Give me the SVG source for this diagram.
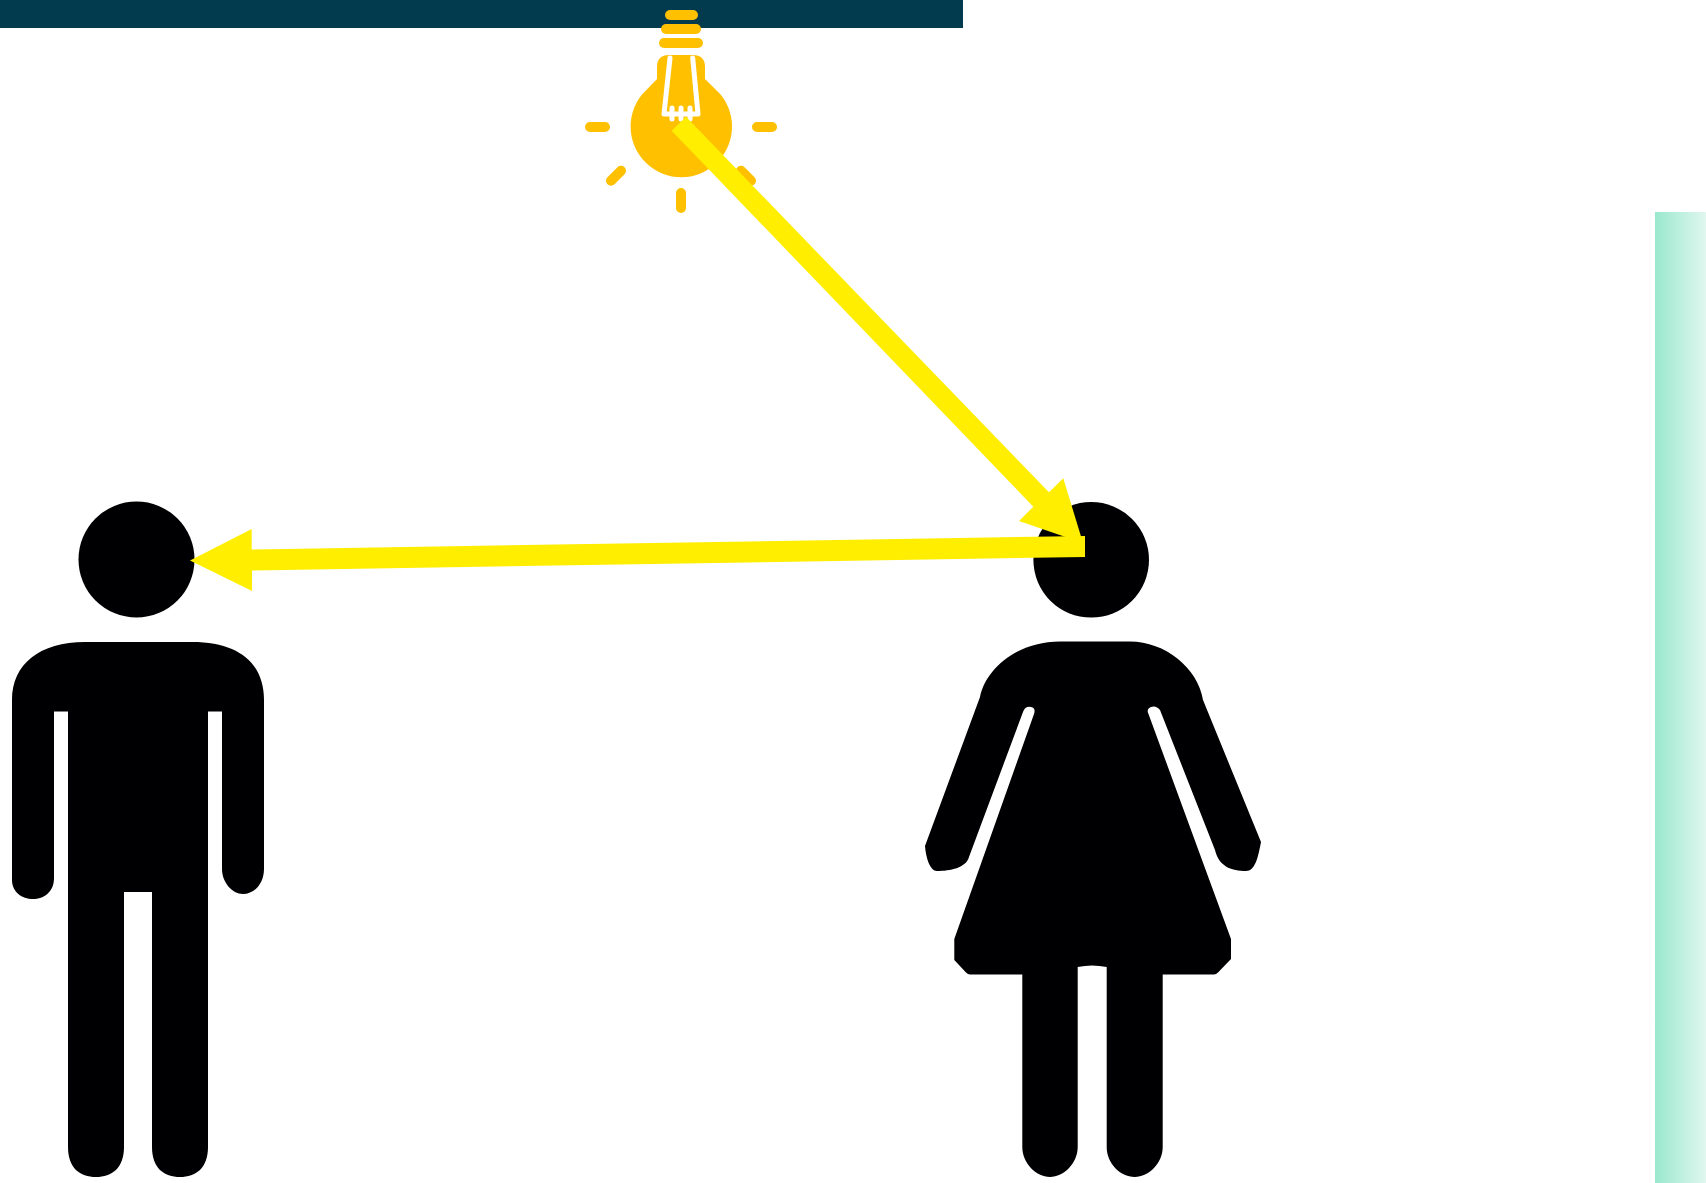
<svg xmlns="http://www.w3.org/2000/svg" width="1706" height="1183" viewBox="0 0 1706 1183">
<defs>
<linearGradient id="band" x1="0" x2="1" y1="0" y2="0"><stop offset="0" stop-color="#9ae8ce"/><stop offset="1" stop-color="#e0f7ef"/></linearGradient>
</defs>
<style>
.fig{fill:#000002}
.bulb{fill:#ffc000}
.ray{stroke:#ffc000;stroke-width:10;stroke-linecap:round;fill:none}
.fil{stroke:#fff;stroke-width:5;stroke-linecap:round;stroke-linejoin:round;fill:none}
.arrow{fill:#ffee00}
</style>
<rect width="1706" height="1183" fill="#fff"/>
<rect id="band-right" x="1655" y="212" width="51" height="971" fill="url(#band)"/>
<rect id="top-bar" x="0" y="0" width="963" height="28" fill="#023a4e"/>
<g id="bulb">
<rect class="bulb" x="665" y="10" width="33" height="10" rx="5"/>
<rect class="bulb" x="661" y="24" width="40" height="10" rx="5"/>
<rect class="bulb" x="659" y="38" width="44" height="10" rx="5"/>
<path class="bulb" d="M669 55H693Q705 55 705 67V79L720.600 94.500A50.700 50.700 0 1 1 642 94.500L657 79V67Q657 55 669 55Z"/>
<path class="fil" d="M670 58L664 114H698L692.700 58"/>
<path class="fil" d="M672 108V119M681 108V119M690 108V119"/>
<path class="ray" d="M590 127H605M757 127H772M681 193V208M621 170.700L611 180.700M741 170.700L751 180.700"/>
</g>
<g id="person-man">
<circle class="fig" cx="136.500" cy="559.500" r="58"/>
<path class="fig" d="M85 642H192C240 642 264 664 264 700V869C264 884 254 894 243 894C232 894 222 882 222 869V711.500H208V1147C208 1168 196 1177 180 1177C164 1177 152 1168 152 1147V892H124V1147C124 1168 112 1177 96 1177C80 1177 68 1168 68 1147V711.500H54V878C54 892 44 899 33 899C22 899 12 892 12 880V700C12 664 40 642 85 642Z"/>
</g>
<g id="person-woman">
<circle class="fig" cx="1091.200" cy="559.800" r="57.800"/>
<path class="fig" d="M1060 641.500H1130C1165 641.500 1198 668 1203 700L1261 842C1258 858 1255 871 1246 871C1232 871 1219 867 1215 850L1160 710Q1156 705 1151 707Q1146 709 1148.500 714L1231 939V959L1218 972.500Q1216 974.500 1214 974.500H1162.700V1147C1162.700 1163 1149 1177 1134.700 1177C1120 1177 1106.700 1163 1106.700 1147V967Q1092 964 1077.700 967V1147C1077.700 1163 1064 1177 1050 1177C1036 1177 1022.300 1163 1022.300 1147V974.500H970Q968 974.500 966 972.500L954.300 960V939L1034 714Q1036 708 1031 707Q1025 706 1023 712L969 857C966 868 950 871 937 871C930 871 926 858 925 846L980 697C986 668 1018 641.500 1060 641.500Z"/>
</g>
<g id="connectors">
<path class="arrow" d="M686 116.700L1049 492.300L1063.300 478.300L1083 543L1019 521L1033.300 506.700L671.700 130.700Z"/>
<path class="arrow" d="M1085 536V557L252 570.500V591L190 560.500L251.700 529V549.500Z"/>
</g>
</svg>
